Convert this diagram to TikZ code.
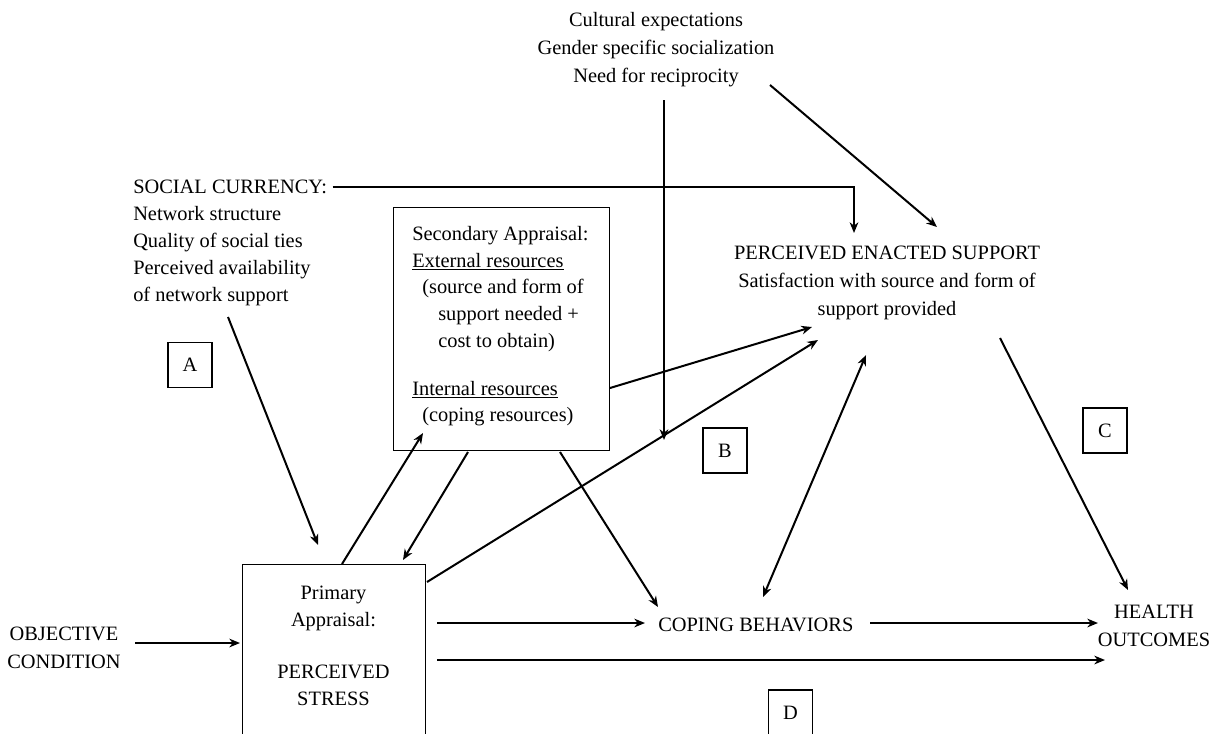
\documentclass[tikz,border=0pt]{standalone}
\usepackage{fontspec}
\setmainfont{Liberation Serif}
\usetikzlibrary{arrows.meta}
\begin{document}
\begin{tikzpicture}[x=0.75pt,y=-0.75pt,
  every node/.style={font=\fontsize{15.3}{20.25}\selectfont, inner sep=0pt},
  tip/.tip={Stealth[length=8pt,width=6.5pt,inset=2.5pt]},
  arr/.style={line width=1.5pt, -tip},
  dbl/.style={line width=1.5pt, tip-tip},
  frame/.style={draw, line width=1pt},
  tag/.style={frame, minimum width=33pt, minimum height=33.75pt}]
\useasboundingbox (0,0) rectangle (1212,733);
\clip (0,0) rectangle (1212,733);

% ---- text blocks ----
\node[align=center, font=\fontsize{15.3}{21}\selectfont] (cult) at (656,50)
  {Cultural expectations\\Gender specific socialization\\Need for reciprocity};
\node[anchor=west] (soc) at (133,187) {SOCIAL CURRENCY:};
\node[anchor=north west, align=left] (socitems) at (133,206)
  {Network structure\\Quality of social ties\\Perceived availability\\of network support};
\node[align=center, font=\fontsize{15.3}{21}\selectfont] (pes) at (887,283)
  {PERCEIVED ENACTED SUPPORT\\Satisfaction with source and form of\\support provided};
\node[anchor=west] (coping) at (658,625) {COPING BEHAVIORS};
\node[align=center, font=\fontsize{15.3}{21}\selectfont] (health) at (1154,626) {HEALTH\\OUTCOMES};
\node[align=center, font=\fontsize{15.3}{21}\selectfont] (obj) at (64,648) {OBJECTIVE\\CONDITION};

% ---- appraisal boxes ----
\node[frame, minimum width=162pt, minimum height=182.25pt, anchor=north west] (sec) at (393,207) {};
\node[anchor=north west, align=left, font=\fontsize{15.3}{20}\selectfont] (sectext) at (412,226)
  {Secondary Appraisal:\\
   \underline{External resources}\\
   \hspace*{7.5pt}(source and form of\\
   \hspace*{19.5pt}support needed +\\
   \hspace*{19.5pt}cost to obtain)\\[16pt]
   \underline{Internal resources}\\
   \hspace*{7.5pt}(coping resources)};
\node[frame, minimum width=137.25pt, minimum height=180pt, anchor=north west] (prim) at (242,564) {};
\node[align=center] (primtext) at (333.5,646)
  {Primary\\Appraisal:\\[19pt]PERCEIVED\\STRESS};

% ---- path labels ----
\node[tag] (lblA) at (190,365) {A};
\node[tag] (lblB) at (725,450.5) {B};
\node[tag] (lblC) at (1105,430.5) {C};
\node[tag] (lblD) at (790.5,712.5) {D};

% ---- connector end points ----
\coordinate (cultDown) at (664,100);
\coordinate (cultDownEnd) at (664,440);
\coordinate (cultDiag) at (770,85);
\coordinate (pesTop1) at (854,233);
\coordinate (pesTop2) at (937,227);
\coordinate (socOut) at (228,317);
\coordinate (primIn) at (318,545);
\coordinate (objOut) at (135,643);
\coordinate (primInL) at (240,643);
\coordinate (primOut1) at (437,623);
\coordinate (copIn) at (645,623);
\coordinate (copOut) at (870,623);
\coordinate (hlIn1) at (1098,623);
\coordinate (primOut2) at (437,660);
\coordinate (hlIn2) at (1105,660);
\coordinate (primTop) at (342,564);
\coordinate (secIn) at (423,433);
\coordinate (secOut1) at (468,452);
\coordinate (primIn2) at (403,560);
\coordinate (secOut2) at (560,452);
\coordinate (copIn2) at (658,607);
\coordinate (secOut3) at (610,388);
\coordinate (pesIn1) at (812,327);
\coordinate (primOut3) at (427,582);
\coordinate (pesIn2) at (818,340);
\coordinate (copTop) at (763,597);
\coordinate (pesBot) at (866,355);
\coordinate (pesOut) at (1000,338);
\coordinate (hlTop) at (1128,590);

% ---- connectors ----
\draw[arr] (cultDown) -- (cultDownEnd);
\draw[arr] (cultDiag) -- (pesTop2);
\draw[arr] ([xshift=4pt]soc.east) -| (pesTop1);
\draw[arr] (socOut) -- (primIn);
\draw[arr] (objOut) -- (primInL);
\draw[arr] (primOut1) -- (copIn);
\draw[arr] (copOut) -- (hlIn1);
\draw[arr] (primOut2) -- (hlIn2);
\draw[arr] (primTop) -- (secIn);
\draw[arr] (secOut1) -- (primIn2);
\draw[arr] (secOut2) -- (copIn2);
\draw[arr] (secOut3) -- (pesIn1);
\draw[arr] (primOut3) -- (pesIn2);
\draw[dbl] (copTop) -- (pesBot);
\draw[arr] (pesOut) -- (hlTop);
\end{tikzpicture}
\end{document}
